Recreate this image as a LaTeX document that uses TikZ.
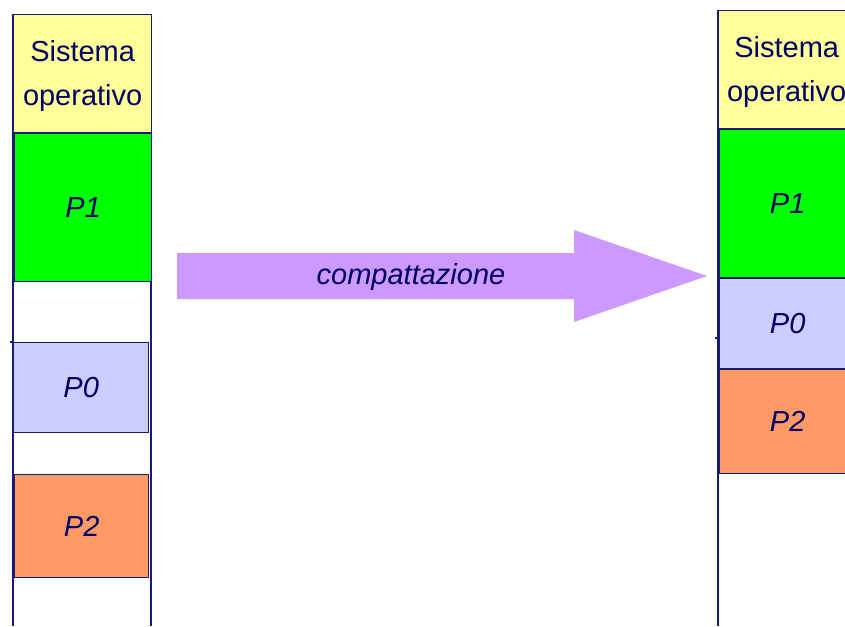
\documentclass[tikz,border=0pt]{standalone}
\usepackage{fontspec}
\setmainfont{Liberation Sans}
\definecolor{navy}{HTML}{000066}
\definecolor{edge}{HTML}{1A1A70}
\definecolor{osfill}{HTML}{FFFF99}
\definecolor{pone}{HTML}{00FF00}
\definecolor{pzero}{HTML}{CCCCFF}
\definecolor{ptwo}{HTML}{FF9966}
\definecolor{arrowfill}{HTML}{CC99FF}
\tikzset{
  memblock/.style={draw=edge, line width=1.3pt, anchor=north west, inner sep=0pt,
    text=navy, font=\fontsize{29}{44}\selectfont, align=center},
  proc/.style={memblock, font=\fontsize{29}{44}\selectfont\itshape},
  colline/.style={draw=edge, line width=1.3pt},
}
\begin{document}
\begin{tikzpicture}[x=1pt,y=-1pt]
\useasboundingbox (0,0) rectangle (845,626);
\clip (0,0) rectangle (845,626);
% left column
\coordinate (lt1) at (13,14);
\coordinate (lb1) at (13,626);
\coordinate (rt1) at (151,14);
\coordinate (rb1) at (151,626);
\draw[colline] (lt1) -- (lb1);
\draw[colline] (rt1) -- (rb1);
\node[memblock, fill=osfill, minimum width=138pt, minimum height=118pt, text depth=2pt] (os1) at (13,14) {Sistema\\operativo};
\node[proc, fill=pone, minimum width=137pt, minimum height=148pt] (p1a) at (14,133) {P1};
\node[proc, fill=pzero, minimum width=135pt, minimum height=90pt] (p0a) at (13,342) {P0};
\node[proc, fill=ptwo, minimum width=134pt, minimum height=103pt] (p2a) at (14,474) {P2};
\coordinate (tick1) at (10,342);
\draw[colline] (tick1) -- (p0a.north west);
% right column
\coordinate (lt2) at (718,10);
\coordinate (lb2) at (718,626);
\draw[colline] (lt2) -- (lb2);
\node[memblock, fill=osfill, minimum width=136pt, minimum height=118pt, text depth=2pt] (os2) at (718,10) {Sistema\\operativo};
\node[proc, fill=pone, minimum width=136pt, minimum height=148pt] (p1b) at (719,129) {P1};
\node[proc, fill=pzero, minimum width=136pt, minimum height=90pt] (p0b) at (719,278) {P0};
\node[proc, fill=ptwo, minimum width=136pt, minimum height=104pt] (p2b) at (719,369) {P2};
\coordinate (tick2) at (715,338);
\coordinate (tick2e) at (718,338);
\draw[colline] (tick2) -- (tick2e);
% arrow
\fill[arrowfill] (177,253) -- (574,253) -- (574,230) -- (707,276) -- (574,322) -- (574,299) -- (177,299) -- cycle;
\node[text=navy, font=\fontsize{29}{35}\selectfont\itshape] (lbl) at (411,277) {compattazione};
\end{tikzpicture}
\end{document}
